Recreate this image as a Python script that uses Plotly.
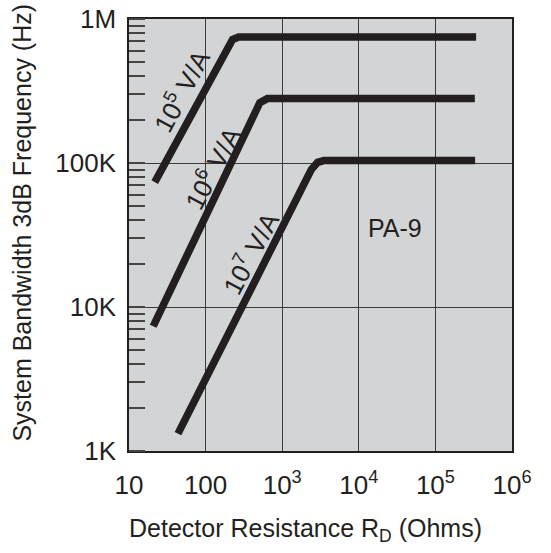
import math
import plotly.graph_objects as go

# Data
r_105 = [21.7, 190, 225, 270, 340000]
bw_105 = [73600, 640000, 720000, 750000, 750000]
r_106 = [20.7, 410, 510, 640, 327000]
bw_106 = [7350, 200000, 262000, 280000, 280000]
r_107 = [43.6, 2400, 2900, 3500, 330000]
bw_107 = [1320, 90000, 101000, 104000, 104000]

x_tickvals = [10, 100, 1e3, 1e4, 1e5, 1e6]
x_ticktext = ["10", "100", "10<sup>3</sup>", "10<sup>4</sup>", "10<sup>5</sup>", "10<sup>6</sup>"]
y_tickvals = [1e3, 1e4, 1e5, 1e6]
y_ticktext = ["1K", "10K", "100K", "1M"]

series = [
    ("10<sup>5</sup> V/A", r_105, bw_105),
    ("10<sup>6</sup> V/A", r_106, bw_106),
    ("10<sup>7</sup> V/A", r_107, bw_107),
]

INK = "#231f20"
BG = "#d3d4d6"
FONT = "Liberation Sans, Arial, sans-serif"

# plot area in page pixels (body margin removed below)
L, R, T, B = 129.3, 512.0, 19.0, 451.0
W, H = R - L, B - T
FW, FH = 551, 553


def to_paper(px, py):
    return (px - L) / W, (B - py) / H


fig = go.Figure()
for name, xs, ys in series:
    fig.add_trace(go.Scatter(x=xs, y=ys, mode="lines", name=name,
                             line=dict(color=INK, width=7.5), showlegend=False,
                             hoverinfo="skip"))

ANG = 62.0
label_px = [(181, 90), (212, 167), (250, 252)]  # label centres (pixels)
shapes = []
for (name, _, _), (cx, cy) in zip(series, label_px):
    xp, yp = to_paper(cx, cy)
    fig.add_annotation(x=xp, y=yp, xref="paper", yref="paper", text=name,
                       xanchor="center", yanchor="middle",
                       showarrow=False, textangle=-ANG,
                       font=dict(size=26, color=INK, family=FONT))
    # background patch hiding the grid behind the label (below the curves)
    a = math.radians(ANG)
    ux, uy = math.cos(a), -math.sin(a)
    vx, vy = math.sin(a), math.cos(a)
    hw, hh = 48, 11
    pts = []
    for su, sv in [(-1, -1), (1, -1), (1, 1), (-1, 1)]:
        px = cx + su * hw * ux + sv * hh * vx
        py = cy + su * hw * uy + sv * hh * vy
        pts.append(to_paper(px, py))
    path = "M " + " L ".join(f"{p[0]:.4f},{p[1]:.4f}" for p in pts) + " Z"
    shapes.append(dict(type="path", path=path, xref="paper", yref="paper",
                       fillcolor=BG, line=dict(width=0), layer="between"))

xp, yp = to_paper(395, 228)
fig.add_annotation(x=xp, y=yp, xref="paper", yref="paper", text="PA-9",
                   xanchor="center", yanchor="middle",
                   showarrow=False, font=dict(size=25, color=INK, family=FONT))

# axis titles
xp, yp = to_paper(306, 530)
fig.add_annotation(x=xp, y=yp, xref="paper", yref="paper",
                   xanchor="center", yanchor="middle",
                   text="Detector Resistance R<sub>D</sub> (Ohms)", showarrow=False,
                   font=dict(size=25, color=INK, family=FONT))
xp, yp = to_paper(22, 223)
fig.add_annotation(x=xp, y=yp, xref="paper", yref="paper",
                   xanchor="center", yanchor="middle",
                   text="System Bandwidth 3dB Frequency (Hz)", showarrow=False,
                   textangle=-90, font=dict(size=25, color=INK, family=FONT))

fig.update_layout(
    width=FW, height=FH,
    margin=dict(l=L, r=FW - R, t=T, b=FH - B, autoexpand=False),
    paper_bgcolor="white", plot_bgcolor=BG,
    font=dict(family=FONT, size=26, color=INK),
    shapes=shapes,
    xaxis=dict(type="log", range=[1, 6], tickvals=x_tickvals, ticktext=x_ticktext,
               showgrid=True, gridcolor="#3a3a3a", gridwidth=1.3,
               showline=True, linecolor=INK, linewidth=1.5, mirror=True,
               ticks="", zeroline=False, automargin=False, ticklabelstandoff=10,
               ticklabeloverflow="allow",
               tickfont=dict(size=26, color=INK, family=FONT)),
    yaxis=dict(type="log", range=[3, 6], tickvals=y_tickvals, ticktext=y_ticktext,
               showgrid=True, gridcolor="#3a3a3a", gridwidth=1.3,
               showline=True, linecolor=INK, linewidth=1.5, mirror=True,
               ticks="", zeroline=False, automargin=False, ticklabelstandoff=6,
               ticklabeloverflow="allow",
               tickfont=dict(size=26, color=INK, family=FONT),
               minor=dict(ticks="inside", ticklen=16, tickcolor="#444444",
                          tickwidth=1.5, dtick="D1", showgrid=False)),
)

fig.write_html("out.html", config={"displayModeBar": False},
               post_script="document.body.style.margin='0';document.body.style.overflow='hidden';")
